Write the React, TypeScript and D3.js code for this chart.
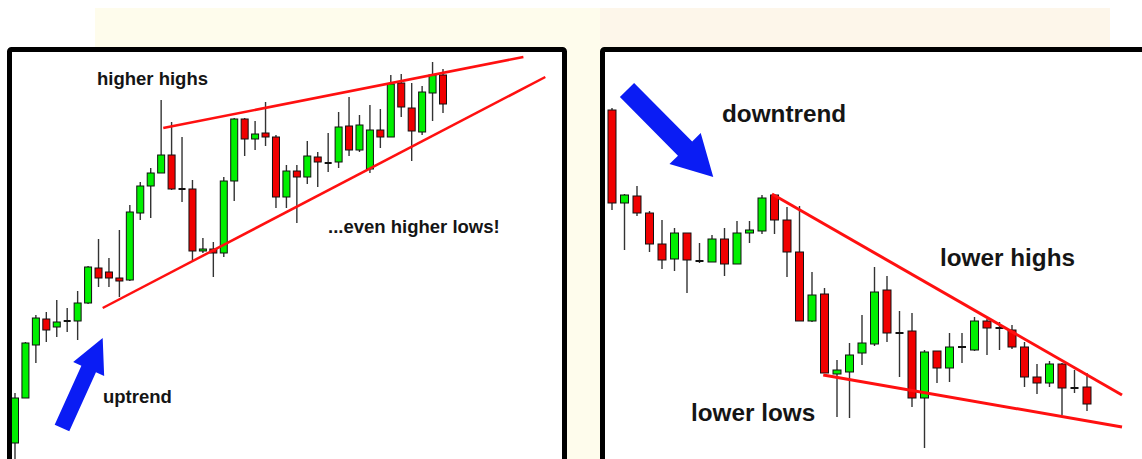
import React from "react";
import * as d3 from "d3";

// rising wedge (left panel)
const upOpen = [17, 62, 115, 141, 133, 139, 139, 157, 192, 188, 182, 180, 247, 274, 287, 305, 271, 271, 209, 211, 207, 279, 341, 321, 327, 323, 263, 289, 283, 303, 297, 298, 334, 310, 291, 330, 323, 377, 352, 328, 367, 385];
const upClose = [62, 117, 142, 130, 138, 139, 157, 193, 182, 182, 179, 248, 274, 287, 305, 271, 271, 209, 211, 207, 279, 341, 321, 326, 323, 263, 289, 283, 304, 298, 297, 333, 310, 335, 330, 323, 376, 353, 329, 368, 385, 356];
const upHigh = [67, 118, 145, 148, 160, 152, 169, 194, 221, 202, 230, 255, 278, 292, 360, 338, 323, 280, 222, 218, 283, 342, 342, 339, 358, 325, 295, 295, 319, 308, 327, 348, 363, 345, 355, 351, 385, 386, 377, 374, 398, 391];
const upLow = [-5, 62, 97, 118, 123, 128, 120, 156, 173, 173, 163, 179, 240, 242, 287, 270, 258, 200, 207, 183, 203, 259, 304, 310, 314, 252, 252, 237, 276, 273, 288, 292, 304, 308, 287, 312, 323, 343, 299, 325, 339, 347];

// falling wedge (right panel)
const downOpen = [350, 257, 264, 247, 216, 201, 227, 199, 198, 221, 196, 227, 229, 265, 240, 208, 139, 166, 86, 88, 107, 116, 170, 127, 129, 62, 109, 92, 113, 110, 139, 132, 130, 113, 83, 77, 96, 72, 73];
const downClose = [257, 265, 247, 216, 200, 227, 200, 199, 221, 196, 227, 230, 262, 240, 208, 139, 165, 87, 90, 105, 117, 168, 127, 127, 62, 108, 92, 113, 113, 139, 132, 132, 113, 83, 77, 96, 72, 72, 56];
const downHigh = [352, 266, 274, 249, 240, 232, 227, 217, 225, 232, 239, 239, 265, 266, 253, 254, 188, 172, 100, 117, 145, 193, 184, 149, 147, 110, 109, 127, 127, 143, 141, 138, 135, 118, 96, 99, 97, 90, 87];
const downLow = [250, 210, 244, 208, 191, 189, 167, 197, 198, 184, 196, 217, 226, 226, 183, 139, 138, 87, 43, 42, 95, 114, 118, 83, 53, 12, 77, 78, 97, 109, 105, 110, 111, 73, 66, 73, 45, 67, 49];

// trend lines [[index, price], [index, price]]
const upperRise: [number, number][] = [[14.2, 332], [48.7, 403]];
const lowerRise: [number, number][] = [[8.4, 152], [50.8, 383]];
const upperFall: [number, number][] = [[12.8, 266], [40.8, 65]];
const lowerFall: [number, number][] = [[16.9, 85], [40.8, 33]];

// arrows [tail, tip]
const upArrow: [number, number][] = [[4.5, 32], [8.4, 122]];
const downArrow: [number, number][] = [[1.2, 370], [8.1, 283]];

const GREEN = "#00f000";
const RED = "#f00000";
const LINE = "#ff1010";
const FONT = "'Liberation Sans', Arial, sans-serif";

function arrowPoints(
  a: [number, number],
  b: [number, number],
  shaft: number,
  head: number,
  headLen: number
) {
  const dx = b[0] - a[0];
  const dy = b[1] - a[1];
  const len = Math.hypot(dx, dy);
  const ux = dx / len, uy = dy / len;
  const nx = -uy, ny = ux;
  const bx = b[0] - ux * headLen, by = b[1] - uy * headLen;
  const pts = [
    [a[0] + nx * shaft / 2, a[1] + ny * shaft / 2],
    [bx + nx * shaft / 2, by + ny * shaft / 2],
    [bx + nx * head / 2, by + ny * head / 2],
    [b[0], b[1]],
    [bx - nx * head / 2, by - ny * head / 2],
    [bx - nx * shaft / 2, by - ny * shaft / 2],
    [a[0] - nx * shaft / 2, a[1] - ny * shaft / 2],
  ];
  return pts.map((p) => p.join(",")).join(" ");
}

function Candles({ open, close, high, low, x, y, bw }: any) {
  return (
    <g>
      {open.map((o: number, i: number) => {
        const c = close[i];
        const cx = x(i);
        const top = y(Math.max(o, c));
        const bot = y(Math.min(o, c));
        const doji = o === c;
        return (
          <g key={i}>
            <line x1={cx} x2={cx} y1={y(high[i])} y2={y(low[i])} stroke="#333" strokeWidth={1.4} />
            {doji ? (
              <rect x={cx - bw / 2} y={top - 1} width={bw} height={2} fill="#111" />
            ) : (
              <rect
                x={cx - bw / 2}
                y={top}
                width={bw}
                height={Math.max(bot - top, 2)}
                fill={c > o ? GREEN : RED}
                stroke="#111"
                strokeWidth={1}
              />
            )}
          </g>
        );
      })}
    </g>
  );
}

export default function App() {
  const xL = d3.scaleLinear().domain([0, 41]).range([15, 443]);
  const xR = d3.scaleLinear().domain([0, 38]).range([612, 1087]);
  const y = d3.scaleLinear().domain([0, 400]).range([460, 60]);

  const lineL = d3.line<[number, number]>().x((d) => xL(d[0])).y((d) => y(d[1]));
  const lineR = d3.line<[number, number]>().x((d) => xR(d[0])).y((d) => y(d[1]));

  const pxL = (d: [number, number]): [number, number] => [xL(d[0]), y(d[1])];
  const pxR = (d: [number, number]): [number, number] => [xR(d[0]), y(d[1])];

  return (
    <svg
      width={1142}
      height={459}
      style={{ position: "absolute", left: 0, top: 0, background: "#fff" }}
    >
      {/* faint watermark background */}
      <rect x={95} y={8} width={1015} height={460} fill="#fefcec" />
      <rect x={600} y={8} width={510} height={40} fill="#fdf6ea" />

      {/* left panel */}
      <rect x={9.5} y={49.5} width={555} height={430} fill="#fff" />
      <Candles open={upOpen} close={upClose} high={upHigh} low={upLow} x={xL} y={y} bw={7} />
      <path d={lineL(upperRise) || ""} stroke={LINE} strokeWidth={2.5} fill="none" />
      <path d={lineL(lowerRise) || ""} stroke={LINE} strokeWidth={2.5} fill="none" />
      <polygon points={arrowPoints(pxL(upArrow[0]), pxL(upArrow[1]), 16, 34, 34)} fill="#0a1cf4" />
      <g fontFamily={FONT} fontWeight="bold" fontSize={18.5} fill="#151515">
        <text x={97} y={85}>higher highs</text>
        <text x={103} y={403}>uptrend</text>
        <text x={328} y={233}>...even higher lows!</text>
      </g>
      <rect x={9.5} y={49.5} width={555} height={430} rx={2} fill="none" stroke="#000" strokeWidth={5} />

      {/* right panel */}
      <rect x={602.5} y={49.5} width={560} height={430} fill="#fff" />
      <Candles open={downOpen} close={downClose} high={downHigh} low={downLow} x={xR} y={y} bw={8} />
      <path d={lineR(upperFall) || ""} stroke={LINE} strokeWidth={3} fill="none" />
      <path d={lineR(lowerFall) || ""} stroke={LINE} strokeWidth={3} fill="none" />
      <polygon points={arrowPoints(pxR(downArrow[0]), pxR(downArrow[1]), 20, 44, 40)} fill="#0a1cf4" />
      <g fontFamily={FONT} fontWeight="bold" fontSize={24.3} fill="#151515">
        <text x={722} y={122}>downtrend</text>
        <text x={940} y={266}>lower highs</text>
        <text x={691} y={421}>lower lows</text>
      </g>
      <rect x={602.5} y={49.5} width={560} height={430} rx={2} fill="none" stroke="#000" strokeWidth={5} />
    </svg>
  );
}
